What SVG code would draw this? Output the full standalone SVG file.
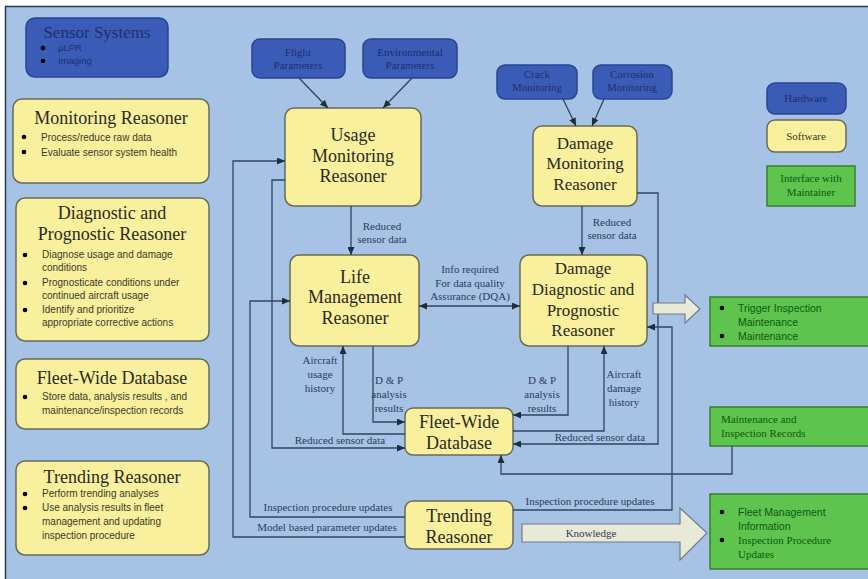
<svg xmlns="http://www.w3.org/2000/svg" width="868" height="579" viewBox="0 0 868 579">
<defs>
<marker id="ah" viewBox="0 0 8 7" markerWidth="8" markerHeight="7" refX="8" refY="3.5" orient="auto-start-reverse" markerUnits="userSpaceOnUse"><path d="M0,0 L8,3.5 L0,7 z" fill="#1f2d3d"/></marker>
</defs>
<style>
.hw{fill:#3b5cb6;stroke:#2a4491;stroke-width:1.5}
.sw{fill:#f8f09c;stroke:#6a6a58;stroke-width:1.5}
.gr{fill:#5ec44d;stroke:#3a7f30;stroke-width:1.5}
.ttl{font-family:"Liberation Serif",serif;fill:#2a2a22;text-anchor:middle}
.hwt{font-family:"Liberation Serif",serif;fill:#1d2f70;text-anchor:middle;font-size:11px}
.bul{font-family:"Liberation Sans",sans-serif;font-size:10px;fill:#3a3a2a}
.grt{font-family:"Liberation Sans",sans-serif;font-size:10.5px;fill:#0d5a12}
.grs{font-family:"Liberation Serif",serif;font-size:11px;fill:#0d5a12}
.lbl{font-family:"Liberation Serif",serif;font-size:11px;fill:#2c3c58;text-anchor:middle}
.cn{fill:none;stroke:#2e4560;stroke-width:1.3}
.big{fill:#e9e9d8;stroke:#6f7c8e;stroke-width:1.2}
</style>
<rect x="5.5" y="6.5" width="870" height="580" fill="#a6c3e6" stroke="#2a3a50" stroke-width="1.5"/>

<g id="sensor-systems">
<rect class="hw" x="26" y="18" width="142" height="59" rx="9"/>
<text class="ttl" x="97" y="38" font-size="17" style="fill:#1d2f70">Sensor Systems</text>
<circle cx="43" cy="48" r="2.3" fill="#000"/><text x="58" y="51" font-family="Liberation Sans,sans-serif" font-size="9.5" fill="#1d2f70">µLPR</text>
<circle cx="43" cy="61" r="2.3" fill="#000"/><text x="58" y="64" font-family="Liberation Sans,sans-serif" font-size="9.5" fill="#1d2f70">Imaging</text>
</g>

<g id="monitoring-reasoner">
<rect class="sw" x="13" y="99" width="196" height="84" rx="9"/>
<text class="ttl" x="111" y="124" font-size="18">Monitoring Reasoner</text>
<circle cx="24" cy="137" r="2.3" fill="#000"/><text class="bul" x="41" y="141">Process/reduce raw data</text>
<circle cx="24" cy="152" r="2.3" fill="#000"/><text class="bul" x="41" y="156">Evaluate sensor system health</text>
</g>

<g id="diag-prog-reasoner">
<rect class="sw" x="16" y="198" width="193" height="143" rx="9"/>
<text class="ttl" x="112" y="219" font-size="18">Diagnostic and</text>
<text class="ttl" x="112" y="240" font-size="18">Prognostic Reasoner</text>
<circle cx="25" cy="255" r="2.3" fill="#000"/><text class="bul" x="42" y="258">Diagnose usage and damage</text><text class="bul" x="42" y="271">conditions</text>
<circle cx="25" cy="283" r="2.3" fill="#000"/><text class="bul" x="42" y="286">Prognosticate conditions under</text><text class="bul" x="42" y="299">continued aircraft usage</text>
<circle cx="25" cy="310" r="2.3" fill="#000"/><text class="bul" x="42" y="313">Identify and prioritize</text><text class="bul" x="42" y="326">appropriate corrective actions</text>
</g>

<g id="fleet-db-legend">
<rect class="sw" x="16" y="359" width="193" height="70" rx="9"/>
<text class="ttl" x="112" y="384" font-size="18">Fleet-Wide Database</text>
<circle cx="25" cy="397" r="2.3" fill="#000"/><text class="bul" x="42" y="400">Store data, analysis results , and</text>
<text class="bul" x="42" y="414">maintenance/inspection records</text>
</g>

<g id="trending-legend">
<rect class="sw" x="16" y="461" width="193" height="94" rx="9"/>
<text class="ttl" x="112" y="483" font-size="18">Trending Reasoner</text>
<circle cx="25" cy="494" r="2.3" fill="#000"/><text class="bul" x="42" y="497">Perform trending analyses</text>
<circle cx="25" cy="508" r="2.3" fill="#000"/><text class="bul" x="42" y="511">Use analysis results in fleet</text>
<text class="bul" x="42" y="525">management and updating</text>
<text class="bul" x="42" y="539">inspection procedure</text>
</g>

<g id="flight-parameters">
<rect class="hw" x="252" y="39" width="93" height="39" rx="8"/>
<text class="hwt" x="298" y="56">Flight</text><text class="hwt" x="298" y="69">Parameters</text>
</g>
<g id="environmental-parameters">
<rect class="hw" x="363" y="39" width="94" height="39" rx="8"/>
<text class="hwt" x="410" y="56">Environmental</text><text class="hwt" x="410" y="69">Parameters</text>
</g>
<g id="crack-monitoring">
<rect class="hw" x="497" y="65" width="80" height="34" rx="8"/>
<text class="hwt" x="537" y="78">Crack</text><text class="hwt" x="537" y="91">Monitoring</text>
</g>
<g id="corrosion-monitoring">
<rect class="hw" x="593" y="65" width="79" height="34" rx="8"/>
<text class="hwt" x="632" y="78">Corrosion</text><text class="hwt" x="632" y="91">Monitoring</text>
</g>

<g id="usage-monitoring">
<rect class="sw" x="285" y="108" width="136" height="98" rx="9"/>
<text class="ttl" x="353" y="141" font-size="18">Usage</text>
<text class="ttl" x="353" y="162" font-size="18">Monitoring</text>
<text class="ttl" x="353" y="182" font-size="18">Reasoner</text>
</g>
<g id="damage-monitoring">
<rect class="sw" x="533" y="126" width="104" height="80" rx="9"/>
<text class="ttl" x="585" y="149" font-size="17">Damage</text>
<text class="ttl" x="585" y="169" font-size="17">Monitoring</text>
<text class="ttl" x="585" y="190" font-size="17">Reasoner</text>
</g>
<g id="life-management">
<rect class="sw" x="290" y="255" width="129" height="91" rx="9"/>
<text class="ttl" x="355" y="283" font-size="18">Life</text>
<text class="ttl" x="355" y="303" font-size="18">Management</text>
<text class="ttl" x="355" y="324" font-size="18">Reasoner</text>
</g>
<g id="damage-diag-prog">
<rect class="sw" x="520" y="255" width="127" height="91" rx="9"/>
<text class="ttl" x="583" y="274" font-size="17">Damage</text>
<text class="ttl" x="583" y="295" font-size="17">Diagnostic and</text>
<text class="ttl" x="583" y="316" font-size="17">Prognostic</text>
<text class="ttl" x="583" y="336" font-size="17">Reasoner</text>
</g>
<g id="fleet-wide-database">
<rect class="sw" x="405" y="408" width="108" height="47" rx="8"/>
<text class="ttl" x="459" y="428" font-size="18">Fleet-Wide</text>
<text class="ttl" x="459" y="449" font-size="18">Database</text>
</g>
<g id="trending-reasoner">
<rect class="sw" x="405" y="501" width="108" height="48" rx="8"/>
<text class="ttl" x="459" y="522" font-size="18">Trending</text>
<text class="ttl" x="459" y="543" font-size="18">Reasoner</text>
</g>

<g id="legend-hardware">
<rect class="hw" x="767" y="83" width="79" height="31" rx="8"/>
<text class="hwt" x="806" y="102">Hardware</text>
</g>
<g id="legend-software">
<rect class="sw" x="767" y="120" width="79" height="32" rx="8"/>
<text class="hwt" x="806" y="140" style="fill:#3a3a2a">Software</text>
</g>
<g id="legend-interface">
<rect class="gr" x="767" y="166" width="88" height="40"/>
<text class="grs" x="811" y="182" text-anchor="middle">Interface with</text>
<text class="grs" x="811" y="196" text-anchor="middle">Maintainer</text>
</g>

<g id="trigger-inspection">
<rect class="gr" x="710" y="297" width="160" height="49"/>
<circle cx="722" cy="308" r="2.3" fill="#000"/><text class="grt" x="738" y="312">Trigger Inspection</text>
<text class="grt" x="738" y="326">Maintenance</text>
<circle cx="722" cy="336" r="2.3" fill="#000"/><text class="grt" x="738" y="340">Maintenance</text>
</g>
<g id="maintenance-records">
<rect class="gr" x="710" y="407" width="160" height="39"/>
<text class="grs" x="721" y="423">Maintenance and</text>
<text class="grs" x="721" y="437">Inspection Records</text>
</g>
<g id="fleet-management-info">
<rect class="gr" x="710" y="494" width="160" height="75"/>
<circle cx="722" cy="512" r="2.3" fill="#000"/><text class="grt" x="738" y="516">Fleet Management</text>
<text class="grt" x="738" y="530">Information</text>
<circle cx="722" cy="540" r="2.3" fill="#000"/><text class="grs" x="738" y="544">Inspection Procedure</text>
<text class="grs" x="738" y="558">Updates</text>
</g>

<g id="connectors">
<line class="cn" x1="299" y1="78" x2="328" y2="108" marker-end="url(#ah)"/>
<line class="cn" x1="412" y1="78" x2="383" y2="108" marker-end="url(#ah)"/>
<line class="cn" x1="563" y1="99" x2="576" y2="126" marker-end="url(#ah)"/>
<line class="cn" x1="604" y1="99" x2="592" y2="126" marker-end="url(#ah)"/>
<line class="cn" x1="351" y1="206" x2="351" y2="255" marker-end="url(#ah)"/>
<line class="cn" x1="582" y1="206" x2="582" y2="255" marker-end="url(#ah)"/>
<line class="cn" x1="419" y1="306" x2="520" y2="306" marker-start="url(#ah)" marker-end="url(#ah)"/>
<path class="cn" d="M285,180 H272 V448 H405" marker-end="url(#ah)"/>
<path class="cn" d="M405,537 H233 V161 H285" marker-end="url(#ah)"/>
<path class="cn" d="M405,517 H250 V301 H290" marker-end="url(#ah)"/>
<path class="cn" d="M373,346 V422 H405" marker-end="url(#ah)"/>
<path class="cn" d="M405,434 H343 V346" marker-end="url(#ah)"/>
<path class="cn" d="M637,193 H658 V444 H513" marker-end="url(#ah)"/>
<path class="cn" d="M568,346 V415 H513" marker-end="url(#ah)"/>
<path class="cn" d="M513,431 H604 V346" marker-end="url(#ah)"/>
<path class="cn" d="M513,510 H672 V327 H647" marker-end="url(#ah)"/>
<path class="cn" d="M732,446 V474 H501 V455" marker-end="url(#ah)"/>
<polygon class="big" points="653,303 685,303 685,295 700,309 685,323 685,314 653,314"/>
<polygon class="big" points="522,524 680,524 680,508 707,533 680,560 680,542 522,542"/>
<text class="lbl" x="591" y="537">Knowledge</text>
<text class="lbl" x="382" y="230">Reduced</text><text class="lbl" x="382" y="243">sensor data</text>
<text class="lbl" x="612" y="226">Reduced</text><text class="lbl" x="612" y="239">sensor data</text>
<text class="lbl" x="470" y="273">Info required</text>
<text class="lbl" x="470" y="287">For data quality</text>
<text class="lbl" x="470" y="300">Assurance (DQA)</text>
<text class="lbl" x="320" y="364">Aircraft</text><text class="lbl" x="320" y="378">usage</text><text class="lbl" x="320" y="392">history</text>
<text class="lbl" x="389" y="384">D &amp; P</text><text class="lbl" x="389" y="398">analysis</text><text class="lbl" x="389" y="412">results</text>
<text class="lbl" x="542" y="384">D &amp; P</text><text class="lbl" x="542" y="398">analysis</text><text class="lbl" x="542" y="412">results</text>
<text class="lbl" x="624" y="378">Aircraft</text><text class="lbl" x="624" y="392">damage</text><text class="lbl" x="624" y="406">history</text>
<text class="lbl" x="340" y="444">Reduced sensor data</text>
<text class="lbl" x="600" y="441">Reduced sensor data</text>
<text class="lbl" x="328" y="511">Inspection procedure updates</text>
<text class="lbl" x="327" y="531">Model based parameter updates</text>
<text class="lbl" x="590" y="505">Inspection procedure updates</text>
</g>
</svg>
